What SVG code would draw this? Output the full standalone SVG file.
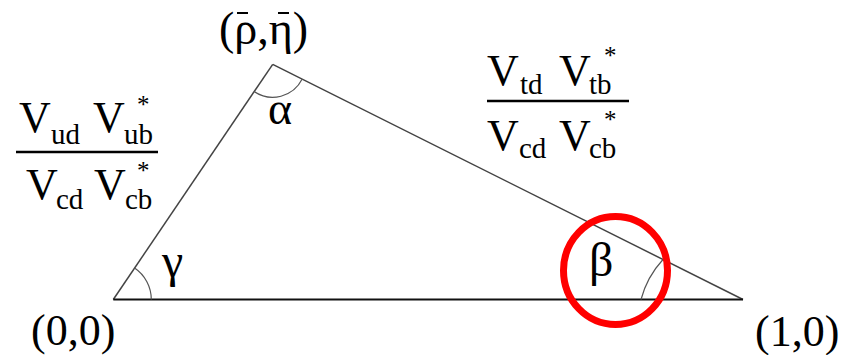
<svg xmlns="http://www.w3.org/2000/svg" width="851" height="355" viewBox="0 0 851 355">
<style>
text{font-family:"Liberation Serif","Times New Roman",serif;fill:#000}
.big{font-size:44px}
.sub{font-size:29px}
.star{font-size:25px}
.gk{font-size:48px}
.side{stroke:#444;stroke-width:1.5;fill:none}
.arc{stroke:#555;stroke-width:1.2;fill:none}
.bar{stroke:#000;stroke-width:2.5}
.macron{stroke:#000;stroke-width:2}
</style>
<rect width="851" height="355" fill="#fff"/>
<g id="triangle">
<line class="side" x1="113.3" y1="299.5" x2="272.7" y2="64.3"/>
<line class="side" x1="272.7" y1="64.3" x2="743" y2="299.5"/>
<line class="side" x1="113.3" y1="299.5" x2="743" y2="299.5" style="stroke:#111;stroke-width:1.8"/>
</g>
<g id="angle-arcs">
<path class="arc" d="M254.2,91.6 A33,33 0 0 0 302.2,79.1"/>
<path class="arc" d="M151.3,299.5 A38,38 0 0 0 134.6,268"/>
<path class="arc" d="M641,299.5 A95,95 0 0 1 663,259.5"/>
</g>
<g id="vertex-labels">
<g id="apex">
<text x="219" y="44" style="font-size:46px">(ρ,η)</text>
<line class="macron" x1="237" y1="13" x2="248" y2="13"/>
<line class="macron" x1="278" y1="13" x2="289" y2="13"/>
</g>
<text id="origin" class="big" x="31" y="345">(0,0)</text>
<text id="unit" class="big" x="755" y="346">(1,0)</text>
</g>
<g id="angle-labels">
<text class="gk" x="268" y="124" style="font-size:46px">α</text>
<text class="gk" x="162" y="277">γ</text>
<text class="gk" x="589" y="276">β</text>
</g>
<g id="left-fraction">
<text class="big"><tspan x="19" y="132">V</tspan><tspan class="sub" x="51" y="144">ud</tspan><tspan x="93" y="132">V</tspan><tspan class="star" x="137" y="113">*</tspan><tspan class="sub" x="124" y="144">ub</tspan></text>
<line class="bar" x1="16" y1="152" x2="158" y2="152"/>
<text class="big"><tspan x="26" y="199">V</tspan><tspan class="sub" x="56" y="209">cd</tspan><tspan x="94" y="199">V</tspan><tspan class="star" x="137" y="179">*</tspan><tspan class="sub" x="125" y="209">cb</tspan></text>
</g>
<g id="right-fraction">
<text class="big"><tspan x="487" y="85">V</tspan><tspan class="sub" x="520" y="94">td</tspan><tspan x="559" y="85">V</tspan><tspan class="star" x="604" y="64">*</tspan><tspan class="sub" x="589" y="94">tb</tspan></text>
<line class="bar" x1="487" y1="101" x2="629" y2="101"/>
<text class="big"><tspan x="487" y="150">V</tspan><tspan class="sub" x="519" y="158">cd</tspan><tspan x="559" y="150">V</tspan><tspan class="star" x="604" y="128">*</tspan><tspan class="sub" x="589" y="158">cb</tspan></text>
</g>
<ellipse id="highlight" cx="615.5" cy="270.5" rx="52" ry="54" fill="none" stroke="#ff0000" stroke-width="7"/>
</svg>
